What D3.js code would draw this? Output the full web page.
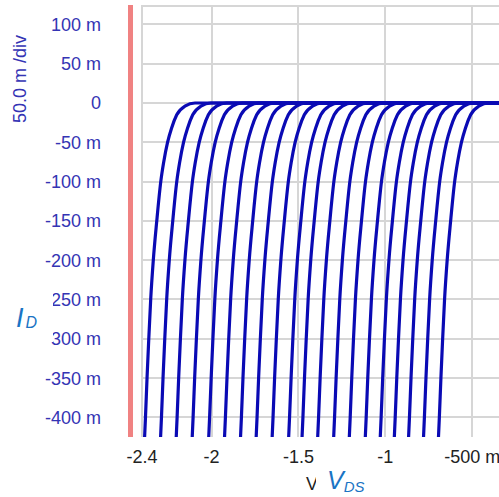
<!DOCTYPE html>
<html><head><meta charset="utf-8">
<script src="https://cdn.jsdelivr.net/npm/d3@7"></script>
<style>
html,body{margin:0;padding:0;background:#fff;overflow:hidden;}
svg{display:block;}
</style></head>
<body>
<svg id="chart" width="499" height="497"></svg>
<script>
// ---- data ----
// V_DS (volts) where each curve reaches the bottom of the plot (I = -425 mA)
const curveBaseV = [-2.385, -2.293, -2.203, -2.111, -2.016, -1.925, -1.833, -1.743, -1.651, -1.556,
                    -1.479, -1.389, -1.297, -1.207, -1.115, -1.029, -0.948, -0.866, -0.780, -0.694];
// shared curve profile: drain current (A) and V_DS offset (V) from the curve's base
const profileI  = [-0.425, -0.40, -0.35, -0.30, -0.25, -0.20, -0.15, -0.10, -0.075, -0.05, -0.032, -0.015, -0.004, 0];
const profileDV = [0, 0.005, 0.014, 0.024, 0.035, 0.05, 0.07, 0.093, 0.11, 0.132, 0.155, 0.185, 0.232, 0.29];
const xTickValues = [-2.4, -2, -1.5, -1, -0.5];
const xTickLabels = ["-2.4", "-2", "-1.5", "-1", "-500 m"];
const yTickValues = [0.1, 0.05, 0, -0.05, -0.1, -0.15, -0.2, -0.25, -0.3, -0.35, -0.4];
const yTickLabels = ["100 m", "50 m", "0", "-50 m", "-100 m", "-150 m", "-200 m", "-250 m", "-300 m", "-350 m", "-400 m"];
const xDomain = [-2.4, -0.34];
const yDomain = [-0.425, 0.1247];

// ---- layout ----
const svg = d3.select("#chart");
const L = 142, R = 500, T = 5, B = 437;
const x = d3.scaleLinear().domain(xDomain).range([L, R]);
const y = d3.scaleLinear().domain(yDomain).range([B, T]);
const gridColor = "#d6d6d6";
const tickBlue = "#3434b4";

const grid = svg.append("g");
grid.selectAll("line.h").data(yTickValues).join("line")
  .attr("x1", L).attr("x2", R)
  .attr("y1", d => Math.round(y(d))).attr("y2", d => Math.round(y(d)))
  .attr("stroke", gridColor).attr("stroke-width", 2);
grid.selectAll("line.v").data(xTickValues).join("line")
  .attr("x1", d => Math.round(x(d))).attr("x2", d => Math.round(x(d)))
  .attr("y1", T).attr("y2", B)
  .attr("stroke", gridColor).attr("stroke-width", 2);
grid.append("line").attr("x1", L).attr("x2", R).attr("y1", T + 1).attr("y2", T + 1)
  .attr("stroke", gridColor).attr("stroke-width", 2);

// red marker bar
svg.append("rect").attr("x", 128).attr("y", T).attr("width", 5).attr("height", B - T)
  .attr("fill", "#f08282");

// curves
const line = d3.line().x(d => x(d[0])).y(d => y(d[1])).curve(d3.curveMonotoneX);
const curves = curveBaseV.map(v0 => {
  const pts = profileI.map((c, i) => [v0 + profileDV[i], c]);
  pts.push([xDomain[1] + 0.05, 0]);
  return pts;
});
svg.append("defs").append("clipPath").attr("id", "clip")
  .append("rect").attr("x", L).attr("y", T).attr("width", R - L).attr("height", B - T);
svg.append("g").attr("clip-path", "url(#clip)")
  .selectAll("path").data(curves).join("path")
  .attr("d", line)
  .attr("fill", "none")
  .attr("stroke", "#0a0ab4")
  .attr("stroke-width", 3.2);

// y tick labels
svg.append("g").selectAll("text").data(yTickValues).join("text")
  .attr("x", 101).attr("y", d => y(d) + 6.5)
  .attr("text-anchor", "end")
  .attr("font-family", "Liberation Sans, Arial, sans-serif")
  .attr("font-size", 18).attr("fill", tickBlue)
  .text((d, i) => yTickLabels[i]);

// x tick labels
svg.append("g").selectAll("text").data(xTickValues).join("text")
  .attr("x", d => x(d)).attr("y", 463)
  .attr("text-anchor", "middle")
  .attr("font-family", "Liberation Sans, Arial, sans-serif")
  .attr("font-size", 18).attr("fill", "#222")
  .text((d, i) => xTickLabels[i]);

// scale per division label
svg.append("text")
  .attr("transform", "translate(26,79) rotate(-90)")
  .attr("text-anchor", "middle")
  .attr("font-family", "Liberation Sans, Arial, sans-serif")
  .attr("font-size", 18).attr("fill", tickBlue)
  .text("50.0 m /div");

// x unit label (partly hidden)
svg.append("text").attr("x", 306).attr("y", 490)
  .attr("font-family", "Liberation Sans, Arial, sans-serif")
  .attr("font-size", 18).attr("fill", "#222").text("V");

// axis titles with white backing
svg.append("rect").attr("x", 0).attr("y", 286).attr("width", 53).attr("height", 56).attr("fill", "#fff");
const idT = svg.append("text").attr("x", 16).attr("y", 327)
  .attr("font-family", "Liberation Sans, Arial, sans-serif")
  .attr("font-style", "italic").attr("fill", "#1a74c4");
idT.append("tspan").attr("font-size", 27).text("I");
idT.append("tspan").attr("font-size", 16).attr("dx", 2).attr("dy", 1).text("D");

svg.append("rect").attr("x", 316).attr("y", 466).attr("width", 60).attr("height", 31).attr("fill", "#fff");
const vdsT = svg.append("text").attr("x", 327).attr("y", 489)
  .attr("font-family", "Liberation Sans, Arial, sans-serif")
  .attr("font-style", "italic").attr("fill", "#1a74c4");
vdsT.append("tspan").attr("font-size", 25).text("V");
vdsT.append("tspan").attr("font-size", 15).attr("dy", 3).text("DS");
</script>
</body></html>
